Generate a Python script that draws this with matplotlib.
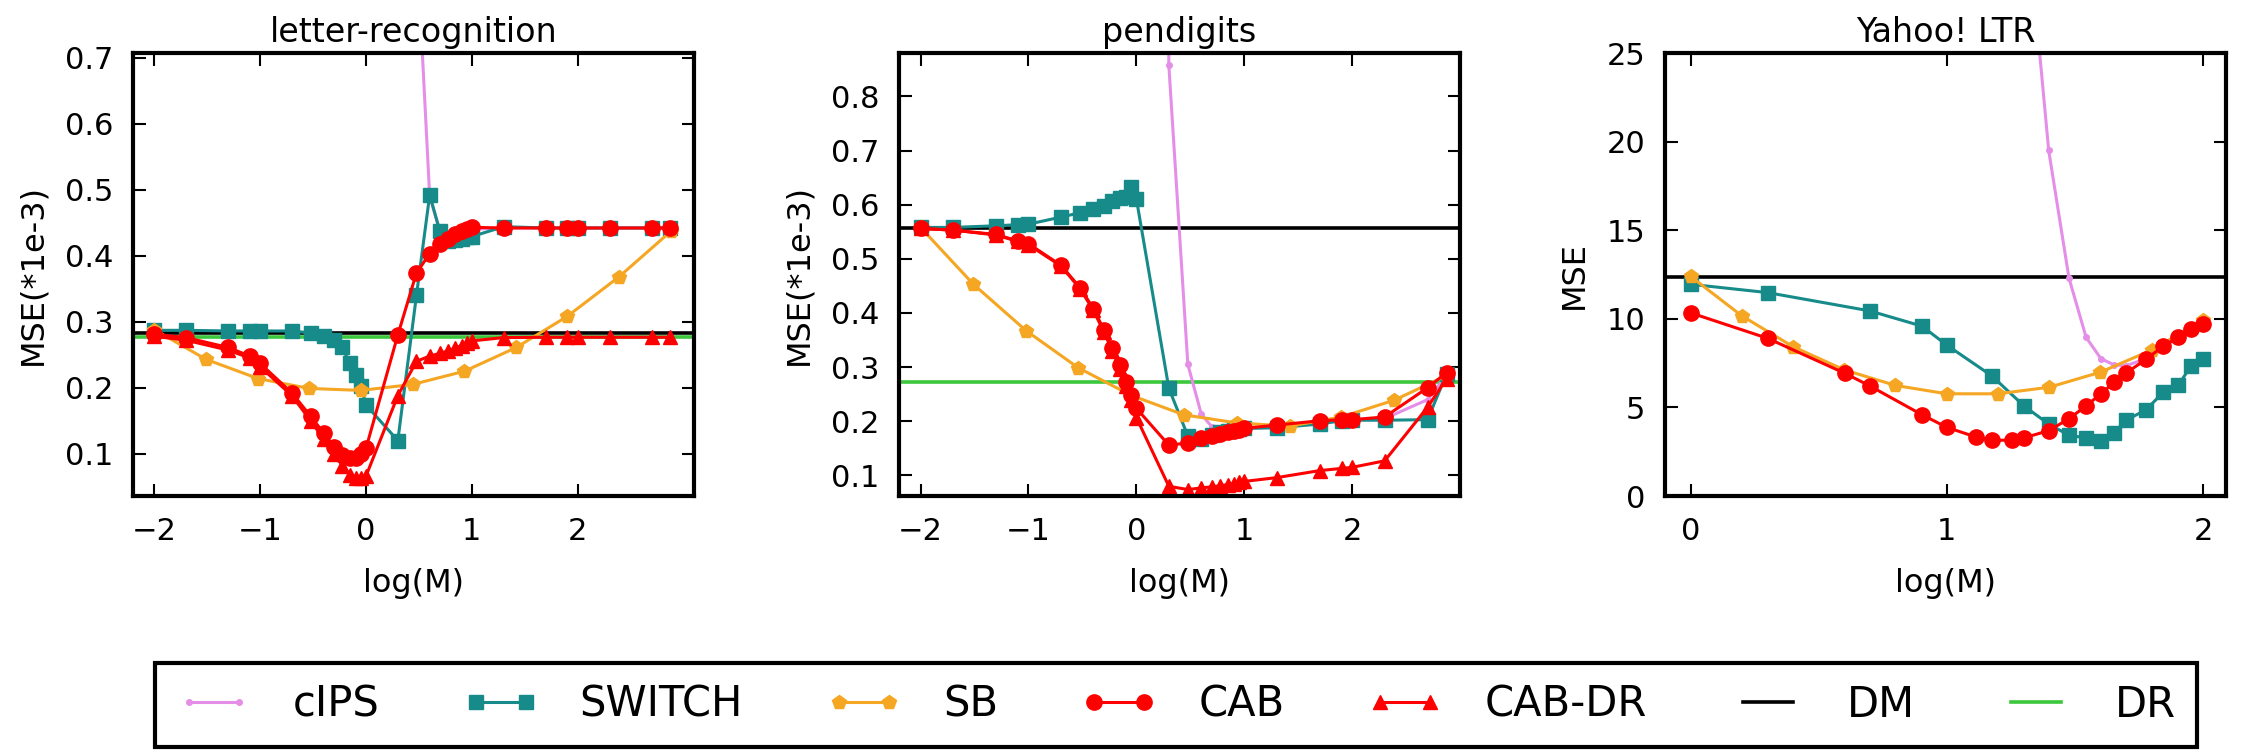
import numpy as np
import matplotlib
matplotlib.use("Agg")
import matplotlib.pyplot as plt

# M grid used for letter-recognition and pendigits
M_grid = [0.01, 0.02, 0.05, 0.08, 0.1, 0.2, 0.3, 0.4, 0.5, 0.6, 0.7, 0.8, 0.9,
          1, 2, 3, 4, 5, 6, 7, 8, 9, 10, 20, 50, 80, 100, 200, 500, 750]
M_cips = [1, 2, 3, 4, 5, 6, 7, 8, 9, 10, 20, 50, 80, 100, 200, 500, 750]
logM_sb = [-2.0, -1.51, -1.02, -0.54, -0.05, 0.44, 0.93, 1.42, 1.9, 2.39, 2.88]

# letter-recognition (MSE * 1e-3)
lr_cips = [10.0, 3.0, 0.88, 0.49, 0.436, 0.428, 0.43, 0.434, 0.438, 0.44, 0.442,
           0.442, 0.442, 0.442, 0.442, 0.442, 0.442]
lr_switch = [0.287, 0.287, 0.286, 0.286, 0.286, 0.286, 0.283, 0.278, 0.273, 0.261,
             0.237, 0.219, 0.202, 0.174, 0.120, 0.340, 0.492, 0.437, 0.422, 0.424,
             0.426, 0.428, 0.429, 0.444, 0.442, 0.442, 0.442, 0.442, 0.442, 0.442]
lr_sb = [0.288, 0.243, 0.214, 0.199, 0.196, 0.205, 0.225, 0.261, 0.308, 0.368, 0.437]
lr_cab = [0.281, 0.276, 0.261, 0.248, 0.237, 0.192, 0.157, 0.131, 0.111, 0.098,
          0.093, 0.094, 0.099, 0.108, 0.280, 0.374, 0.403, 0.417, 0.426, 0.433,
          0.437, 0.440, 0.443, 0.442, 0.442, 0.442, 0.442, 0.442, 0.442, 0.442]
lr_cabdr = [0.278, 0.272, 0.257, 0.245, 0.232, 0.188, 0.150, 0.122, 0.100, 0.082,
            0.068, 0.064, 0.064, 0.066, 0.188, 0.240, 0.248, 0.252, 0.256, 0.260,
            0.264, 0.268, 0.271, 0.276, 0.2765, 0.2765, 0.2765, 0.2765, 0.2765, 0.2765]
lr_dm = 0.2834
lr_dr = 0.2774

# pendigits (MSE * 1e-3)
pd_cips = [10.0, 0.857, 0.305, 0.213, 0.190, 0.186, 0.185, 0.185, 0.186, 0.187,
           0.189, 0.197, 0.202, 0.203, 0.205, 0.240, 0.285]
pd_switch = [0.558, 0.558, 0.561, 0.563, 0.564, 0.577, 0.585, 0.592, 0.597, 0.607,
             0.613, 0.615, 0.633, 0.611, 0.261, 0.173, 0.167, 0.175, 0.180, 0.183,
             0.185, 0.186, 0.187, 0.188, 0.195, 0.201, 0.202, 0.202, 0.203, 0.288]
pd_sb = [0.558, 0.453, 0.367, 0.299, 0.248, 0.212, 0.197, 0.191, 0.208, 0.239, 0.285]
pd_cab = [0.556, 0.553, 0.545, 0.533, 0.528, 0.488, 0.447, 0.408, 0.369, 0.336,
          0.304, 0.273, 0.248, 0.224, 0.156, 0.160, 0.169, 0.173, 0.177, 0.180,
          0.182, 0.184, 0.187, 0.193, 0.201, 0.203, 0.203, 0.208, 0.262, 0.290]
pd_cabdr = [0.556, 0.553, 0.544, 0.532, 0.526, 0.487, 0.445, 0.405, 0.365, 0.330,
            0.297, 0.265, 0.240, 0.207, 0.080, 0.074, 0.077, 0.079, 0.081, 0.083,
            0.085, 0.087, 0.089, 0.096, 0.109, 0.113, 0.115, 0.127, 0.226, 0.279]
pd_dm = 0.556
pd_dr = 0.273

# Yahoo! LTR
y_M_cips = [15, 20, 25, 30, 35, 40, 45, 50, 60, 70, 80, 90, 100]
y_cips = [60.0, 34.6, 19.5, 12.3, 8.95, 7.75, 7.4, 7.35, 7.75, 8.4, 8.95, 9.35, 9.65]
y_M_switch = [1, 2, 5, 8, 10, 15, 20, 25, 30, 35, 40, 45, 50, 60, 70, 80, 90, 100]
y_switch = [11.95, 11.48, 10.45, 9.59, 8.52, 6.78, 5.09, 4.06, 3.43, 3.28, 3.13,
            3.56, 4.27, 4.87, 5.86, 6.24, 7.36, 7.73]
y_logM_sb = [0.0, 0.2, 0.4, 0.6, 0.8, 1.0, 1.2, 1.4, 1.6, 1.8, 2.0]
y_sb = [12.40, 10.17, 8.43, 7.12, 6.24, 5.77, 5.77, 6.14, 6.99, 8.24, 9.93]
y_M_cab = [1, 2, 4, 5, 8, 10, 13, 15, 18, 20, 25, 30, 35, 40, 45, 50, 60, 70, 80, 90, 100]
y_cab = [10.34, 8.90, 6.93, 6.22, 4.59, 3.88, 3.33, 3.15, 3.15, 3.28, 3.69, 4.36,
         5.09, 5.77, 6.42, 6.93, 7.72, 8.46, 8.95, 9.40, 9.70]
y_dm = 12.36

c_cips = '#e58ee8'
c_switch = '#178a8a'
c_sb = '#f5a623'
c_red = '#ff0000'
c_dr = '#3cc83c'

plt.rcParams['font.family'] = 'DejaVu Sans'
plt.rcParams['font.size'] = 22
plt.rcParams['axes.linewidth'] = 3
plt.rcParams['axes.labelsize'] = 23
plt.rcParams['xtick.direction'] = 'in'
plt.rcParams['ytick.direction'] = 'in'
plt.rcParams['xtick.top'] = True
plt.rcParams['ytick.right'] = True
plt.rcParams['xtick.major.size'] = 9
plt.rcParams['ytick.major.size'] = 9
plt.rcParams['xtick.major.width'] = 1.5
plt.rcParams['ytick.major.width'] = 1.5
plt.rcParams['xtick.major.pad'] = 15
plt.rcParams['ytick.major.pad'] = 14

fig, axes = plt.subplots(1, 3, figsize=(22.51, 7.51), dpi=100)
plt.subplots_adjust(left=0.0591, right=0.9889, top=0.9294, bottom=0.3395, wspace=0.365)

lw = 2.2


def draw_panel(ax, cips, switch, sb, cab, cabdr, dm, dr):
    ax.plot(cips[0], cips[1], '.-', color=c_cips, lw=lw, ms=8, label='cIPS')
    ax.plot(switch[0], switch[1], 's-', color=c_switch, lw=lw, ms=10, label='SWITCH')
    ax.plot(sb[0], sb[1], 'p-', color=c_sb, lw=lw, ms=10, label='SB')
    ax.plot(cab[0], cab[1], 'o-', color=c_red, lw=lw, ms=11, label='CAB')
    if cabdr is not None:
        ax.plot(cabdr[0], cabdr[1], '^-', color=c_red, lw=lw, ms=10, label='CAB-DR')
    ax.axhline(dm, color='black', lw=2.6, zorder=1.8, label='DM')
    if dr is not None:
        ax.axhline(dr, color=c_dr, lw=2.6, zorder=1.8, label='DR')


ax1, ax2, ax3 = axes
lg = np.log10(M_grid)
lc = np.log10(M_cips)

draw_panel(ax1, (lc, lr_cips), (lg, lr_switch), (logM_sb, lr_sb), (lg, lr_cab),
           (lg, lr_cabdr), lr_dm, lr_dr)
ax1.set_xlim(-2.2, 3.1)
ax1.set_ylim(0.036, 0.707)
ax1.set_xticks([-2, -1, 0, 1, 2])
ax1.set_yticks([0.1, 0.2, 0.3, 0.4, 0.5, 0.6, 0.7])
ax1.set_title('letter-recognition', fontsize=24, pad=8)
ax1.set_ylabel('MSE(*1e-3)', labelpad=12)

draw_panel(ax2, (lc, pd_cips), (lg, pd_switch), (logM_sb, pd_sb), (lg, pd_cab),
           (lg, pd_cabdr), pd_dm, pd_dr)
ax2.set_xlim(-2.2, 3.0)
ax2.set_ylim(0.062, 0.88)
ax2.set_xticks([-2, -1, 0, 1, 2])
ax2.set_yticks([0.1, 0.2, 0.3, 0.4, 0.5, 0.6, 0.7, 0.8])
ax2.set_title('pendigits', fontsize=24, pad=8)
ax2.set_ylabel('MSE(*1e-3)', labelpad=12)

draw_panel(ax3, (np.log10(y_M_cips), y_cips), (np.log10(y_M_switch), y_switch),
           (y_logM_sb, y_sb), (np.log10(y_M_cab), y_cab), None, y_dm, None)
ax3.set_xlim(-0.1, 2.09)
ax3.set_ylim(0, 25)
ax3.set_xticks([0, 1, 2])
ax3.set_yticks([0, 5, 10, 15, 20, 25])
ax3.set_title('Yahoo! LTR', fontsize=24, pad=8)
ax3.set_ylabel('MSE', labelpad=12)

for ax in axes:
    ax.set_xlabel('log(M)', labelpad=16)

handles, labels = ax1.get_legend_handles_labels()
leg = fig.legend(handles, labels, loc='center', bbox_to_anchor=(0.5225, 0.0613),
                 ncol=7, fontsize=30, numpoints=2, handlelength=1.8,
                 handletextpad=1.0, columnspacing=2.0, borderpad=0.5,
                 fancybox=False, framealpha=1, edgecolor='black')
leg.get_frame().set_linewidth(3)

fig.savefig('out.png', dpi=100)
